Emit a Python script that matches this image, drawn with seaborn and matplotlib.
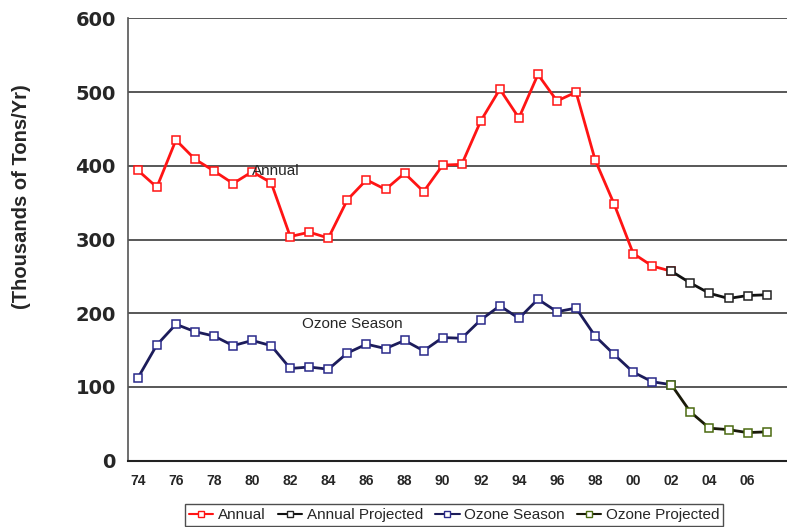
import matplotlib
matplotlib.use("Agg")
import matplotlib.pyplot as plt
from matplotlib.lines import Line2D
import seaborn as sns

# Data (thousands of tons per year)
years = list(range(1974, 2003))
annual = [394, 371, 435, 409, 393, 376, 392, 377, 304, 310, 302, 354, 381, 368, 390,
          365, 401, 402, 461, 504, 465, 524, 488, 500, 408, 348, 281, 264, 257]
ozone = [112, 157, 185, 175, 169, 156, 163, 156, 125, 127, 124, 146, 158, 152, 163,
         149, 167, 166, 191, 210, 193, 219, 202, 207, 169, 144, 120, 107, 103]
proj_years = list(range(2002, 2008))
annual_proj = [257, 241, 227, 220, 224, 225]
ozone_proj = [103, 66, 44, 42, 38, 39]
tick_years = list(range(1974, 2008, 2))
tick_labels = ["%02d" % (y % 100) for y in tick_years]

sns.set_style("white")
plt.rcParams['font.family'] = ['Liberation Sans', 'DejaVu Sans']

fig = plt.figure(figsize=(7.87, 5.27), dpi=100)
ax = fig.add_axes([0.163, 0.126, 0.837, 0.839])

# gridlines
for v in range(100, 700, 100):
    ax.axhline(v, color='#2a2a2a', lw=1.1, zorder=0)

mk = dict(marker='s', markersize=5.4, markerfacecolor='white', markeredgewidth=1.1)
sns.lineplot(x=years, y=annual, ax=ax, color='#ff1414', lw=2.0,
             markeredgecolor='#ff1414', **mk)
sns.lineplot(x=proj_years, y=annual_proj, ax=ax, color='#111111', lw=2.0,
             markeredgecolor='#222222', **mk)
sns.lineplot(x=years, y=ozone, ax=ax, color='#1c1c5a', lw=2.0,
             markeredgecolor='#2a2a8a', **mk)
sns.lineplot(x=proj_years, y=ozone_proj, ax=ax, color='#1a1a0a', lw=2.0,
             markeredgecolor='#4a6a10', **mk)

ax.set_xlim(1973.5, 2008.07)
ax.set_ylim(0, 600)

ax.set_yticks(range(0, 700, 100))
ax.tick_params(axis='y', length=5, width=1, color='#333333', pad=4)
for t in ax.get_yticklabels():
    t.set_fontweight('bold')
    t.set_fontsize(14)
    t.set_family('DejaVu Sans')

ax.set_xticks(tick_years)
ax.set_xticklabels(tick_labels, fontsize=10, fontweight='bold')
ax.set_xticks([y + 0.5 for y in range(1973, 2008)], minor=True)
ax.tick_params(axis='x', which='major', length=0, pad=10)
ax.tick_params(axis='x', which='minor', length=4, width=1, color='#222222', direction='out')

for s in ['top', 'right']:
    ax.spines[s].set_visible(False)
ax.spines['left'].set_color('#555555')
ax.spines['left'].set_linewidth(1.2)
ax.spines['bottom'].set_color('#222222')
ax.spines['bottom'].set_linewidth(1.5)
ax.set_xlabel("")
ax.set_ylabel("")

fig.text(0.027, 0.626, "(Thousands of Tons/Yr)", rotation=90, ha='center', va='center',
         fontsize=14.5, fontweight='bold')

ax.text(1980.0, 393, "Annual", fontsize=11, ha='left', va='center')
ax.text(1982.6, 186, "Ozone Season", fontsize=11, ha='left', va='center')

handles = [
    Line2D([], [], color='#ff1414', lw=1.5, marker='s', markersize=5,
           markerfacecolor='white', markeredgecolor='#ff1414'),
    Line2D([], [], color='#111111', lw=1.5, marker='s', markersize=5,
           markerfacecolor='white', markeredgecolor='#222222'),
    Line2D([], [], color='#1c1c5a', lw=1.5, marker='s', markersize=5,
           markerfacecolor='white', markeredgecolor='#2a2a8a'),
    Line2D([], [], color='#1a1a0a', lw=1.5, marker='s', markersize=5,
           markerfacecolor='white', markeredgecolor='#4a6a10'),
]
labels = ["Annual", "Annual Projected", "Ozone Season", "Ozone Projected"]
leg = fig.legend(handles, labels, loc='center', bbox_to_anchor=(0.577, 0.023), ncol=4,
                 fontsize=11, frameon=True, fancybox=False, handlelength=1.6,
                 handletextpad=0.3, columnspacing=0.8, borderpad=0.25)
leg.get_frame().set_edgecolor('#222222')
leg.get_frame().set_linewidth(1.0)

fig.savefig("out.png", dpi=100)
